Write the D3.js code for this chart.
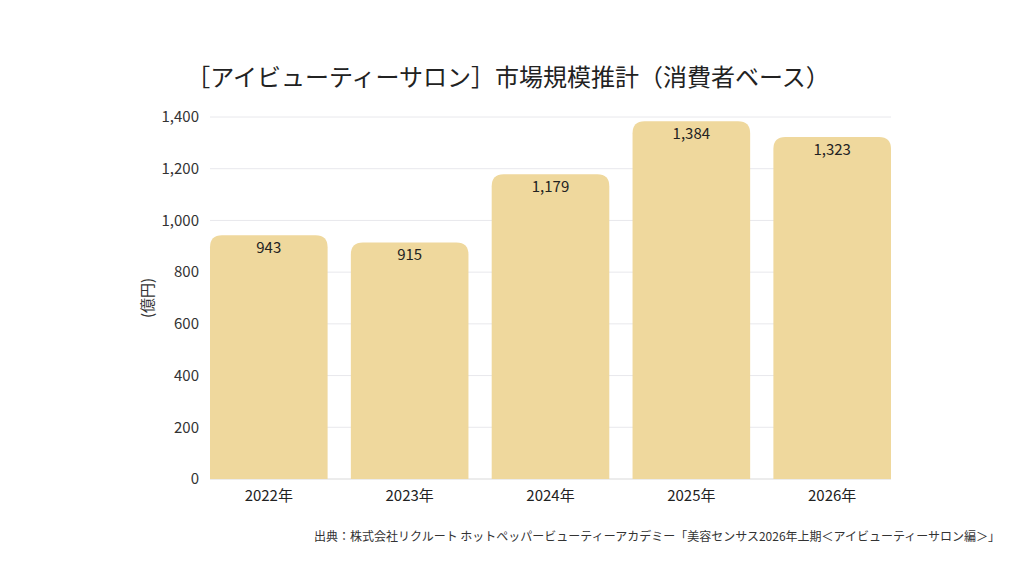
<!DOCTYPE html>
<html><head><meta charset="utf-8">
<script src="https://cdn.jsdelivr.net/npm/d3@7"></script>
<style>body{margin:0;background:#fff;font-family:"Noto Sans CJK JP","Noto Sans",sans-serif;}</style>
</head><body><svg id="c" width="1024" height="576"></svg>
<script>
const categories = ["2022年","2023年","2024年","2025年","2026年"];
const values = [943, 915, 1179, 1384, 1323];
const yTicks = [0,200,400,600,800,1000,1200,1400];
const title = "［アイビューティーサロン］市場規模推計（消費者ベース）";
const yTitle = "(億円)";
const source = "出典：株式会社リクルート ホットペッパービューティーアカデミー「美容センサス2026年上期＜アイビューティーサロン編＞」";

const svg = d3.select("#c");
const m = {l:210, r:891, t:117, b:479};
const x = d3.scaleBand().domain(categories).range([m.l, m.r]).paddingInner(0.165).paddingOuter(0);
const y = d3.scaleLinear().domain([0,1400]).range([m.b, m.t]);
const fmt = d3.format(",");
const font = '"Noto Sans CJK JP","Noto Sans",sans-serif';

svg.append("rect").attr("width",1024).attr("height",576).attr("fill","#fff");

svg.append("text").attr("x",508).attr("y",86).attr("text-anchor","middle")
  .attr("font-size",24).attr("fill","#222").attr("font-family",font).text(title);

const g = svg.append("g");
g.selectAll("line.grid").data(yTicks).join("line")
  .attr("x1",m.l).attr("x2",m.r).attr("y1",d=>y(d)).attr("y2",d=>y(d))
  .attr("stroke",d=>d===0?"#d9d9d9":"#e8e8ec").attr("stroke-width",1);

g.selectAll("text.yt").data(yTicks).join("text")
  .attr("x",199).attr("y",d=>y(d)).attr("dy","0.35em").attr("text-anchor","end")
  .attr("font-size",15).attr("fill","#333").attr("font-family",font).text(d=>fmt(d));

svg.append("text").attr("transform","translate(148,298) rotate(-90)").attr("text-anchor","middle")
  .attr("dy","0.35em").attr("font-size",15).attr("fill","#333").attr("font-family",font).text(yTitle);

const r = 12;
function barPath(d,i){
  const x0 = x(categories[i]), w = x.bandwidth(), y0 = y(d), yb = y(0);
  return `M${x0},${yb}V${y0+r}Q${x0},${y0} ${x0+r},${y0}H${x0+w-r}Q${x0+w},${y0} ${x0+w},${y0+r}V${yb}Z`;
}
g.selectAll("path.bar").data(values).join("path").attr("d",barPath).attr("fill","#efd89d");

g.selectAll("text.vl").data(values).join("text")
  .attr("x",(d,i)=>x(categories[i])+x.bandwidth()/2).attr("y",d=>y(d)+18)
  .attr("text-anchor","middle").attr("font-size",15).attr("fill","#222").attr("font-family",font)
  .text(d=>fmt(d));

g.selectAll("text.xl").data(categories).join("text")
  .attr("x",d=>x(d)+x.bandwidth()/2).attr("y",501).attr("text-anchor","middle")
  .attr("font-size",15).attr("fill","#222").attr("font-family",font).text(d=>d);

svg.append("text").attr("x",1000).attr("y",541).attr("text-anchor","end")
  .attr("font-size",12).attr("fill","#333").attr("font-family",font).text(source);
</script></body></html>
